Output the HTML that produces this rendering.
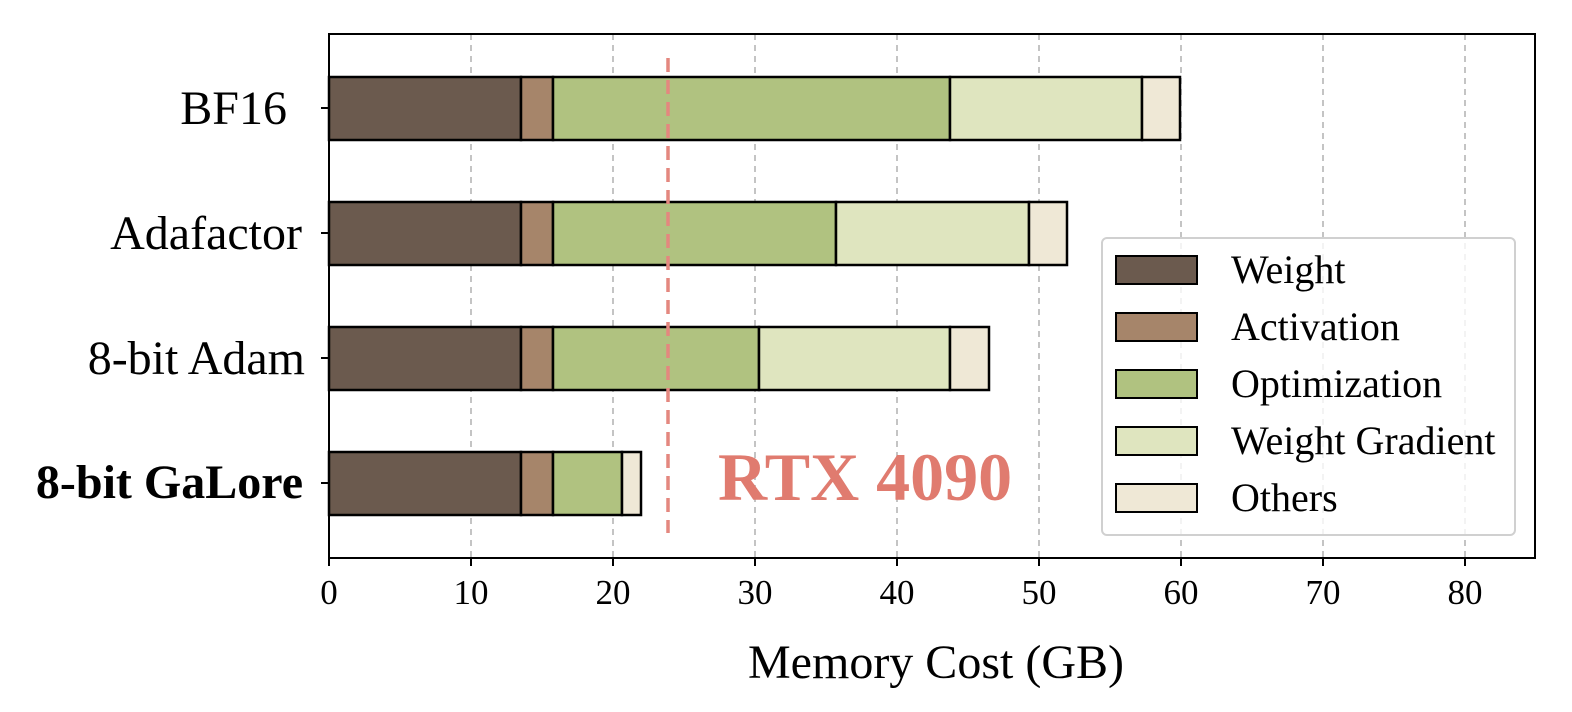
<!DOCTYPE html>
<html><head><style>body{margin:0;background:#fff}svg{display:block}</style></head><body>
<svg width="1572" height="712" xmlns="http://www.w3.org/2000/svg" font-family="Liberation Serif, serif">
<g stroke="#b0b0b0" stroke-width="1.5" stroke-dasharray="6,5">
<line x1="471" y1="34" x2="471" y2="558"/><line x1="613" y1="34" x2="613" y2="558"/><line x1="755" y1="34" x2="755" y2="558"/><line x1="897" y1="34" x2="897" y2="558"/><line x1="1039" y1="34" x2="1039" y2="558"/><line x1="1181" y1="34" x2="1181" y2="558"/><line x1="1323" y1="34" x2="1323" y2="558"/><line x1="1465" y1="34" x2="1465" y2="558"/>
</g>
<g stroke="#000" stroke-width="2.5">
<rect x="329" y="77" width="192" height="63" fill="#6b5a4e"/><rect x="521" y="77" width="32" height="63" fill="#a6856a"/><rect x="553" y="77" width="397" height="63" fill="#b0c280"/><rect x="950" y="77" width="192" height="63" fill="#dfe5bf"/><rect x="1142" y="77" width="38" height="63" fill="#efe8d6"/>
<rect x="329" y="202" width="192" height="63" fill="#6b5a4e"/><rect x="521" y="202" width="32" height="63" fill="#a6856a"/><rect x="553" y="202" width="283" height="63" fill="#b0c280"/><rect x="836" y="202" width="193" height="63" fill="#dfe5bf"/><rect x="1029" y="202" width="38" height="63" fill="#efe8d6"/>
<rect x="329" y="327" width="192" height="63" fill="#6b5a4e"/><rect x="521" y="327" width="32" height="63" fill="#a6856a"/><rect x="553" y="327" width="206" height="63" fill="#b0c280"/><rect x="759" y="327" width="191" height="63" fill="#dfe5bf"/><rect x="950" y="327" width="39" height="63" fill="#efe8d6"/>
<rect x="329" y="452" width="192" height="63" fill="#6b5a4e"/><rect x="521" y="452" width="32" height="63" fill="#a6856a"/><rect x="553" y="452" width="69" height="63" fill="#b0c280"/><rect x="622" y="452" width="19" height="63" fill="#efe8d6"/>
</g>
<line x1="668" y1="58" x2="668" y2="533" stroke="#e4877f" stroke-width="3.5" stroke-dasharray="14,8"/>
<text x="718" y="500" font-size="68" font-weight="bold" fill="#e07b6f">RTX 4090</text>
<rect x="329" y="34" width="1206" height="524" fill="none" stroke="#000" stroke-width="2"/>
<g stroke="#000" stroke-width="2">
<line x1="329" y1="558" x2="329" y2="566"/><line x1="471" y1="558" x2="471" y2="566"/><line x1="613" y1="558" x2="613" y2="566"/><line x1="755" y1="558" x2="755" y2="566"/><line x1="897" y1="558" x2="897" y2="566"/><line x1="1039" y1="558" x2="1039" y2="566"/><line x1="1181" y1="558" x2="1181" y2="566"/><line x1="1323" y1="558" x2="1323" y2="566"/><line x1="1465" y1="558" x2="1465" y2="566"/>
<line x1="321" y1="108" x2="329" y2="108"/><line x1="321" y1="233" x2="329" y2="233"/><line x1="321" y1="358" x2="329" y2="358"/><line x1="321" y1="483" x2="329" y2="483"/>
</g>
<g font-size="35" text-anchor="middle">
<text x="329" y="604">0</text><text x="471" y="604">10</text><text x="613" y="604">20</text><text x="755" y="604">30</text><text x="897" y="604">40</text><text x="1039" y="604">50</text><text x="1181" y="604">60</text><text x="1323" y="604">70</text><text x="1465" y="604">80</text>
</g>
<text x="936" y="678" font-size="48" text-anchor="middle">Memory Cost (GB)</text>
<g font-size="48" text-anchor="end">
<text x="287" y="124">BF16</text><text x="302" y="249">Adafactor</text><text x="305" y="374">8-bit Adam</text><text x="303" y="498" font-weight="bold">8-bit GaLore</text>
</g>
<rect x="1102" y="238" width="413" height="297" rx="5" fill="#fff" fill-opacity="0.8" stroke="#d0d0d0" stroke-width="2"/>
<g stroke="#000" stroke-width="2">
<rect x="1116" y="256" width="81" height="28" fill="#6b5a4e"/><rect x="1116" y="313" width="81" height="28" fill="#a6856a"/><rect x="1116" y="370" width="81" height="28" fill="#b0c280"/><rect x="1116" y="427" width="81" height="28" fill="#dfe5bf"/><rect x="1116" y="484" width="81" height="28" fill="#efe8d6"/>
</g>
<g font-size="40">
<text x="1231" y="283">Weight</text><text x="1231" y="340">Activation</text><text x="1231" y="397">Optimization</text><text x="1231" y="454">Weight Gradient</text><text x="1231" y="511">Others</text>
</g>
</svg>
</body></html>
